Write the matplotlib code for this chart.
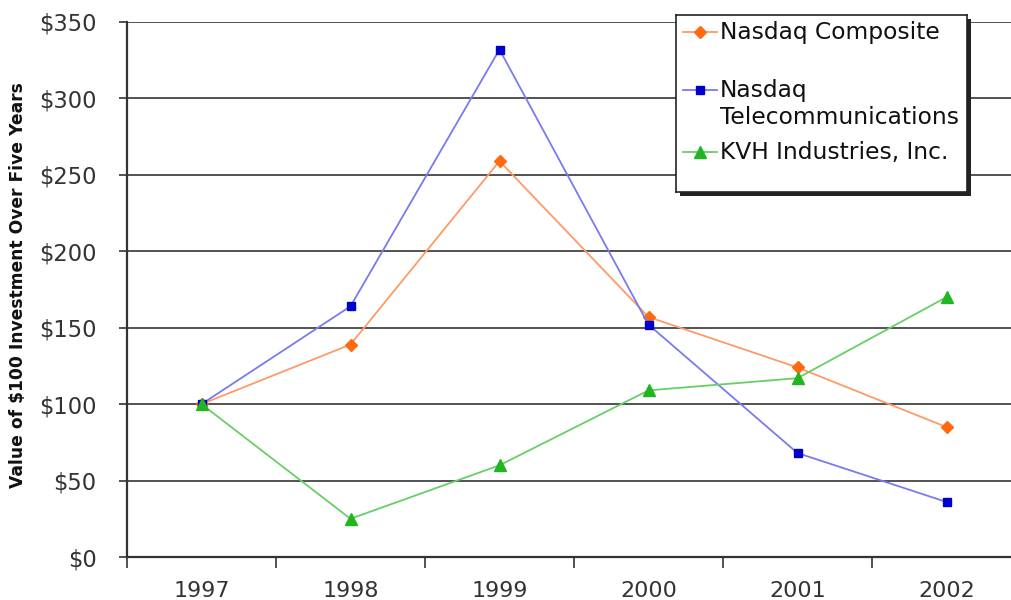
import matplotlib
matplotlib.use("Agg")
import matplotlib.pyplot as plt
from matplotlib.patches import Rectangle

years = ["1997", "1998", "1999", "2000", "2001", "2002"]
nasdaq_composite = [100, 139, 259, 157, 124, 85]
nasdaq_telecom = [100, 164, 332, 152, 68, 36]
kvh = [100, 25, 60, 109, 117, 170]
series_names = ["Nasdaq Composite", "Nasdaq\nTelecommunications", "KVH Industries, Inc."]
y_ticks = [0, 50, 100, 150, 200, 250, 300, 350]

styles = [
    dict(color="#FF9A66", marker="D", markersize=6, mfc="#FF6A10", mec="#FF6A10"),
    dict(color="#7A7AF0", marker="s", markersize=6, mfc="#0000CC", mec="#0000CC"),
    dict(color="#66D066", marker="^", markersize=8.5, mfc="#22B522", mec="#22B522"),
]
data = [nasdaq_composite, nasdaq_telecom, kvh]

W, H = 1011, 600
fig = plt.figure(figsize=(W / 100, H / 100), dpi=100)
ax = fig.add_axes([127 / W, (H - 557) / H, 894 / W, 535 / H])

x = list(range(len(years)))
for vals, st in zip(data, styles):
    ax.plot(x, vals, linewidth=1.3, zorder=3, clip_on=False, **st)

ax.set_xlim(-0.5, len(years) - 0.5)
ax.set_ylim(0, 350)
ax.set_yticks(y_ticks)
ax.set_yticklabels([f"${v}" for v in y_ticks])
ax.set_xticks([i - 0.5 for i in range(len(years) + 1)])
ax.set_xticklabels([])
ax.set_xticks(x, minor=True)
ax.set_xticklabels(years, minor=True)
ax.tick_params(axis="x", which="minor", length=0, pad=17, labelsize=16, labelcolor="#333333")
ax.tick_params(axis="x", which="major", length=8, width=1.2, color="#333333", direction="out")
ax.tick_params(axis="y", length=6, width=1.2, color="#333333", pad=16, labelsize=16.3, labelcolor="#333333")
ax.yaxis.grid(True, color="#444444", linewidth=1.3)
ax.set_axisbelow(True)
for s in ["top", "right"]:
    ax.spines[s].set_visible(False)
for s in ["left", "bottom"]:
    ax.spines[s].set_color("#333333")
    ax.spines[s].set_linewidth(1.6)

fig.text(18 / W, 1 - 285 / H, "Value of $100 Investment Over Five Years", rotation=90,
         ha="center", va="center", fontsize=12.3, fontweight="bold", color="#111111")

# Legend box
lx, ly, lw, lh = 676, 15, 291, 177
shadow = Rectangle(((lx + 4) / W, 1 - (ly + lh + 4) / H), lw / W, lh / H,
                   transform=fig.transFigure, facecolor="#222222", edgecolor="none", zorder=9)
fig.add_artist(shadow)
lax = fig.add_axes([lx / W, 1 - (ly + lh) / H, lw / W, lh / H], zorder=10)
lax.set_xlim(0, lw)
lax.set_ylim(lh, 0)
lax.set_xticks([])
lax.set_yticks([])
for sp in lax.spines.values():
    sp.set_color("#222222")
    sp.set_linewidth(1.2)
entry_y = [17, 75, 137]
for name, st, yy in zip(series_names, styles, entry_y):
    lax.plot([7, 41], [yy, yy], linewidth=1.3, color=st["color"])
    lax.plot([24], [yy], linestyle="none", **{k: v for k, v in st.items() if k != "color"})
    for j, ln in enumerate(name.split("\n")):
        lax.text(44, yy + 27 * j, ln, va="center", ha="left", fontsize=16.8, color="#111111")

fig.savefig("out.png", dpi=100)
